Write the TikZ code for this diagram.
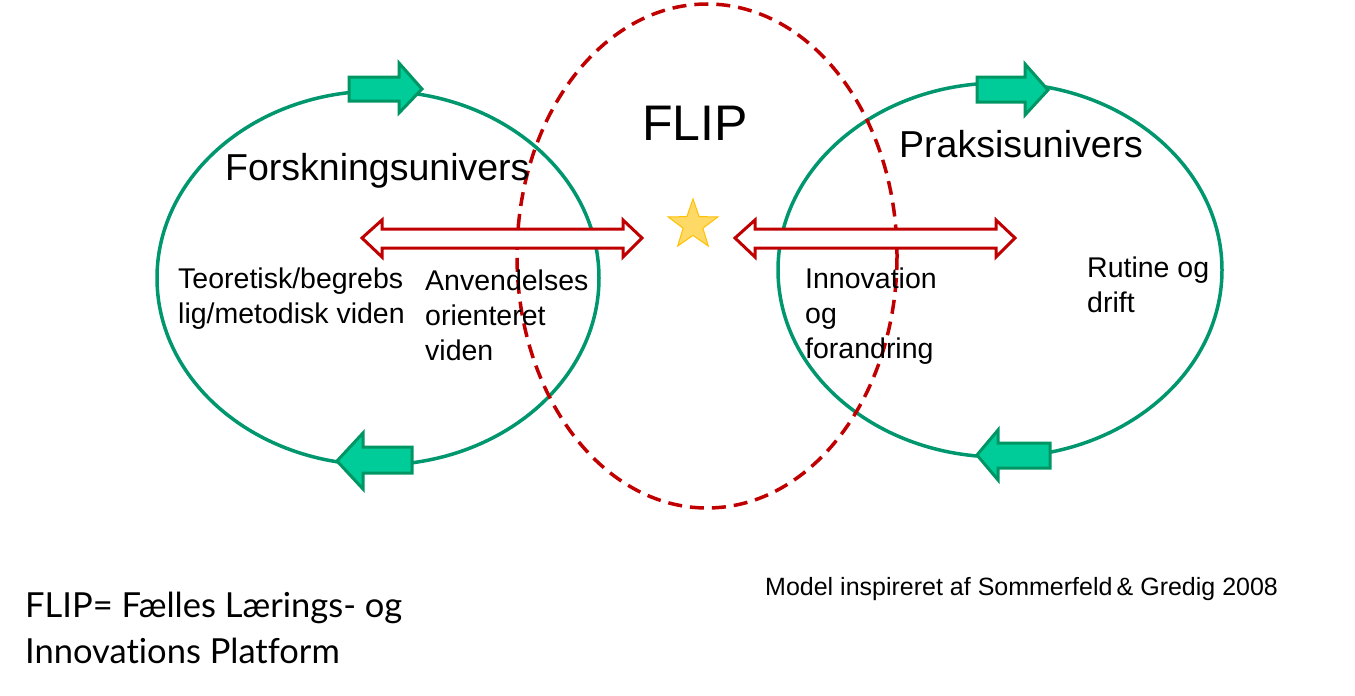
\documentclass[tikz,border=0pt]{standalone}
\usepackage{fontspec}
\setmainfont{Liberation Sans}
\newfontfamily\gillfont[Ligatures=NoCommon]{Lato}
\usetikzlibrary{shapes.geometric}
\definecolor{ringgreen}{RGB}{0,150,110}
\definecolor{arrowfill}{RGB}{0,204,153}
\definecolor{arrowline}{RGB}{0,150,100}
\definecolor{flipred}{RGB}{192,0,0}
\definecolor{starfill}{RGB}{255,217,102}
\definecolor{starline}{RGB}{255,192,0}
\tikzset{
  ring/.style={draw=ringgreen, line width=3.5pt},
  flipring/.style={draw=flipred, line width=3.5pt, dash pattern=on 14pt off 8pt},
  cyclearrow/.style={fill=arrowfill, draw=arrowline, line width=3pt, line join=miter},
  twoway/.style={draw=flipred, fill=white, line width=3pt, line join=miter},
  lbl/.style={anchor=base west, inner sep=0pt, align=left, font=\fontsize{28.5}{35}\selectfont},
  title/.style={anchor=base west, inner sep=0pt, font=\fontsize{37.5}{45}\selectfont},
}
\begin{document}
\begin{tikzpicture}[x=1pt,y=-1pt]
\useasboundingbox (0,0) rectangle (1355,696);
% circles
\draw[ring] (378,278) ellipse [x radius=221, y radius=187];
\draw[ring] (1000,270) ellipse [x radius=222, y radius=187];
\draw[flipring] (707,256) ellipse [x radius=190, y radius=252];
% cycle arrows
\draw[cyclearrow] (349,77) -- (399,77) -- (399,63) -- (422,89) -- (399,113) -- (399,101) -- (349,101) -- cycle;
\draw[cyclearrow] (412,447) -- (363,447) -- (363,433) -- (337,461) -- (363,489) -- (363,473) -- (412,473) -- cycle;
\draw[cyclearrow] (977,77) -- (1025,77) -- (1025,64) -- (1048,90) -- (1025,115) -- (1025,102) -- (977,102) -- cycle;
\draw[cyclearrow] (1050,443) -- (998,443) -- (998,430) -- (977,455) -- (998,480) -- (998,468) -- (1050,468) -- cycle;
% double arrows
\draw[twoway] (362,238) -- (382,220) -- (382,229) -- (623,229) -- (623,220) -- (642,238) -- (623,257) -- (623,248) -- (382,248) -- (382,257) -- cycle;
\draw[twoway] (735,238) -- (755,220) -- (755,229) -- (996,229) -- (996,220) -- (1015,238) -- (996,257) -- (996,248) -- (755,248) -- (755,257) -- cycle;
% star
\node[star, star points=5, star point ratio=2.5, minimum size=52pt, inner sep=0pt, fill=starfill, draw=starline, line width=1pt] (star) at (693,225) {};
% titles
\node[anchor=base, inner sep=0pt, font=\fontsize{50}{60}\selectfont] (flip) at (695,140) {FLIP};
\node[title] (forsk) at (225,180) {Forskningsunivers};
\node[title] (praksis) at (899,157) {Praksisunivers};
% labels (anchored at the baseline of the last line)
\node[lbl] (teo) at (178,323) {Teoretisk/begrebs\\lig/metodisk viden};
\node[lbl] (anv) at (425,360) {Anvendelses\\orienteret\\viden};
\node[lbl] (inno) at (805,358) {Innovation\\og\\forandring};
\node[lbl] (rut) at (1087,312) {Rutine og\\drift};
% footer
\node[anchor=base west, inner sep=0pt, font=\fontsize{25}{30}\selectfont] (model) at (765,595) {Model inspireret af Sommerfeld\,\& Gredig 2008};
\node[anchor=base west, inner sep=0pt, align=left, font=\gillfont\fontsize{34.5}{46}\selectfont] (def) at (25,663) {FLIP= Fælles Lærings- og\\Innovations Platform};
\end{tikzpicture}
\end{document}
